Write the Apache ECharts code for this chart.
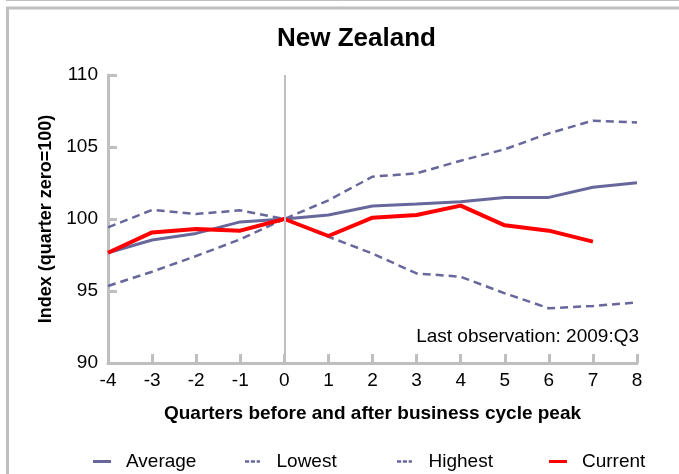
<!DOCTYPE html>
<html>
<head>
<meta charset="utf-8">
<script src="https://cdn.jsdelivr.net/npm/echarts@6/dist/echarts.min.js"></script>
<style>
  html, body { margin: 0; padding: 0; background: #fff; }
  #chart { width: 679px; height: 474px; }
</style>
</head>
<body>
<div id="chart"></div>
<script>
// quarters relative to the business cycle peak
const quarters = [-4, -3, -2, -1, 0, 1, 2, 3, 4, 5, 6, 7, 8];
const average = [97.66, 98.54, 99.0, 99.8, 100, 100.28, 100.9, 101.04, 101.2, 101.5, 101.5, 102.2, 102.52];
const lowest = [95.35, 96.34, 97.43, 98.59, 100, 98.77, 97.6, 96.22, 95.99, 94.84, 93.8, 93.96, 94.2];
const highest = [99.42, 100.63, 100.35, 100.6, 100, 101.3, 102.94, 103.17, 104.05, 104.84, 105.95, 106.83, 106.71];
const current = [97.66, 99.07, 99.3, 99.19, 100, 98.82, 100.09, 100.28, 100.93, 99.56, 99.19, 98.43];

const FONT = "Liberation Sans, Arial, sans-serif";
const PURPLE = "#67679c";
const GREY = "#bfbfbf";
const SOLID_ICON = "path://M0,0H18V3H0Z";
const DASH_ICON = "path://M0,0H5V3H0Z M7,0H12V3H7Z M14,0H18V3H14Z";

function pairs(vals) {
  return vals.map((v, i) => [quarters[i], v]);
}

function legendAt(name, left, icon, iconHeight) {
  return {
    data: [{ name: name, icon: icon }],
    left: left,
    top: 447,
    itemWidth: 18,
    itemHeight: iconHeight,
    textStyle: { fontFamily: FONT, fontSize: 19, color: "#000", padding: [0, 0, 0, 10] }
  };
}

const myChart = echarts.init(document.getElementById("chart"));
myChart.setOption({
  animation: false,
  title: {
    text: "New Zealand",
    left: 272,
    top: 21,
    textStyle: { fontFamily: FONT, fontSize: 26, fontWeight: "bold", color: "#000" }
  },
  legend: [
    legendAt("Average", 88, SOLID_ICON, 3),
    legendAt("Lowest", 240, DASH_ICON, 2.5),
    legendAt("Highest", 392, DASH_ICON, 2.5),
    legendAt("Current", 544, SOLID_ICON, 3)
  ],
  grid: { left: 108, right: 42, top: 75, bottom: 111 },
  xAxis: {
    type: "value",
    min: -4,
    max: 8,
    interval: 1,
    name: "Quarters before and after business cycle peak",
    nameLocation: "middle",
    nameGap: 41,
    nameTextStyle: { fontFamily: FONT, fontSize: 19, fontWeight: "bold", color: "#000" },
    axisLine: { onZero: false, lineStyle: { color: GREY, width: 3 } },
    axisTick: { inside: true, length: 9, lineStyle: { color: GREY, width: 3 } },
    axisLabel: { fontFamily: FONT, fontSize: 19, color: "#000", margin: 8 },
    splitLine: { show: false }
  },
  yAxis: {
    type: "value",
    min: 90,
    max: 110,
    interval: 5,
    name: "Index (quarter zero=100)",
    nameLocation: "middle",
    nameGap: 53,
    nameTextStyle: { fontFamily: FONT, fontSize: 18, fontWeight: "bold", color: "#000" },
    axisLine: { show: true, onZero: false, lineStyle: { color: GREY, width: 3 } },
    axisTick: { show: true, inside: true, length: 9, lineStyle: { color: GREY, width: 3 } },
    axisLabel: { fontFamily: FONT, fontSize: 19, color: "#000", margin: 10 },
    splitLine: { show: false }
  },
  graphic: [
    { type: "line", shape: { x1: 6, y1: 0.5, x2: 679, y2: 0.5 }, style: { stroke: GREY, lineWidth: 1 } },
    { type: "line", shape: { x1: 6, y1: 8, x2: 679, y2: 8 }, style: { stroke: GREY, lineWidth: 3 } },
    { type: "line", shape: { x1: 7.5, y1: 7, x2: 7.5, y2: 474 }, style: { stroke: GREY, lineWidth: 3 } },
    {
      type: "text",
      x: 639,
      y: 337,
      style: {
        text: "Last observation: 2009:Q3",
        fontFamily: FONT,
        fontSize: 19,
        fill: "#000",
        align: "right",
        verticalAlign: "middle"
      }
    }
  ],
  series: [
    {
      name: "Average",
      type: "line",
      symbol: "none",
      data: pairs(average),
      lineStyle: { color: PURPLE, width: 3 },
      itemStyle: { color: PURPLE },
      z: 3,
      markLine: {
        silent: true,
        symbol: "none",
        label: { show: false },
        lineStyle: { color: GREY, width: 2, type: "solid" },
        data: [{ xAxis: 0 }]
      }
    },
    {
      name: "Lowest",
      type: "line",
      symbol: "none",
      data: pairs(lowest),
      lineStyle: { color: PURPLE, width: 2.5, type: [8, 5] },
      itemStyle: { color: PURPLE },
      z: 3
    },
    {
      name: "Highest",
      type: "line",
      symbol: "none",
      data: pairs(highest),
      lineStyle: { color: PURPLE, width: 2.5, type: [8, 5] },
      itemStyle: { color: PURPLE },
      z: 3
    },
    {
      name: "Current",
      type: "line",
      symbol: "none",
      data: pairs(current),
      lineStyle: { color: "#ff0000", width: 4 },
      itemStyle: { color: "#ff0000" },
      z: 4
    }
  ]
});
</script>
</body>
</html>
